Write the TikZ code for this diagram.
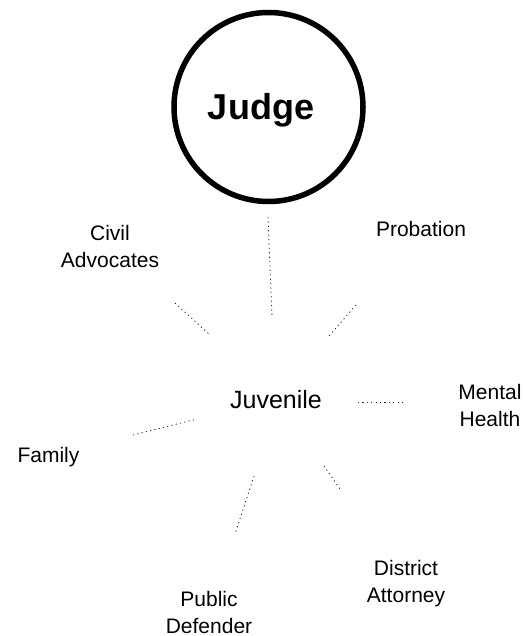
\documentclass[tikz,border=0pt]{standalone}
\usepackage{fontspec}
\setmainfont{Liberation Sans}
\begin{document}
\begin{tikzpicture}[x=1pt,y=-1pt,
  label/.style={font=\fontsize{21}{27}\selectfont, align=center, inner sep=0pt},
  link/.style={line width=0.8pt, black!85, dash pattern=on 1.2pt off 3.2pt},
  bigcircle/.style={circle, draw, line width=5.5pt, minimum size=189pt, inner sep=0pt}]
  \useasboundingbox (0,0) rectangle (523,636);

  % central hub and the judge
  \node[bigcircle] (judge) at (268.5,107) {};
  \node[font=\fontsize{36}{42}\bfseries, inner sep=0pt] (judgetext) at (261,110) {Judge};
  \node[font=\fontsize{25}{30}\selectfont, inner sep=0pt] (juv) at (276,400) {Juvenile};

  % surrounding agencies
  \node[label] (civil) at (110,246) {Civil\\Advocates};
  \node[label] (prob) at (421,229) {Probation};
  \node[label] (mental) at (490,405) {Mental\\Health};
  \node[label] (family) at (48.5,457) {Family};
  \node[label] (da) at (406,584) {District\\Attorney};
  \node[label] (pd) at (209,612) {Public\\Defender};

  % end points of the dotted links
  \coordinate (j1) at (268,217);   \coordinate (j2) at (272,317);
  \coordinate (c1) at (175,303);   \coordinate (c2) at (210,335);
  \coordinate (p1) at (356,305);   \coordinate (p2) at (329,336);
  \coordinate (f1) at (133,435);   \coordinate (f2) at (197,419);
  \coordinate (m1) at (358,402);   \coordinate (m2) at (405,402);
  \coordinate (d1) at (324,466);   \coordinate (d2) at (340,489);
  \coordinate (u1) at (254,476);   \coordinate (u2) at (235,534);

  \draw[link] (j1) -- (j2);
  \draw[link] (c1) -- (c2);
  \draw[link] (p1) -- (p2);
  \draw[link] (f1) -- (f2);
  \draw[link] (m1) -- (m2);
  \draw[link] (d1) -- (d2);
  \draw[link] (u1) -- (u2);
\end{tikzpicture}
\end{document}
